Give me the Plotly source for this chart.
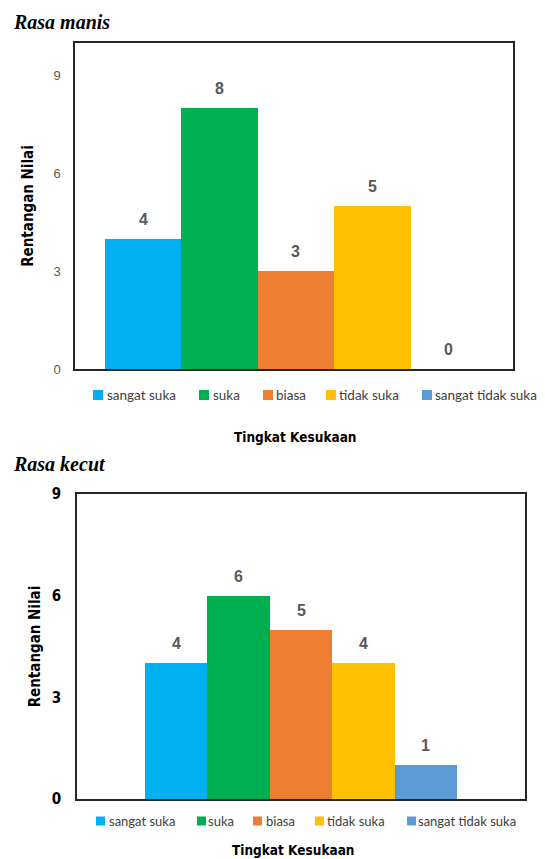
import plotly.graph_objects as go

categories = ["sangat suka", "suka", "biasa", "tidak suka", "sangat tidak suka"]
manis_values = [4, 8, 3, 5, 0]
kecut_values = [4, 6, 5, 4, 1]
colors = ["#00B0F0", "#00B050", "#ED7D31", "#FFC000", "#5B9BD5"]
ytick_vals = [0, 3, 6, 9]

W, H = 545, 859
def py(p):
    return 1 - p / H
def px_(x):
    return x / W

NARROW = "DejaVu Sans Condensed, Liberation Sans Narrow, Liberation Sans, Arial"
LEG = "Lato, Carlito, Calibri, Liberation Sans"
fig = go.Figure()

label_font = dict(family="Liberation Sans", size=16, color="#595959", weight="bold")
for i, (cat, v) in enumerate(zip(categories, manis_values)):
    fig.add_trace(go.Bar(x=[i], y=[v], width=1, name=cat, marker_color=colors[i],
                         marker_line_width=0, xaxis="x", yaxis="y", showlegend=False))
    fig.add_annotation(x=i, y=v, xref="x", yref="y", text=str(v), showarrow=False,
                       yanchor="bottom", yshift=9, font=label_font)
for i, (cat, v) in enumerate(zip(categories, kecut_values)):
    fig.add_trace(go.Bar(x=[i], y=[v], width=1, name=cat, marker_color=colors[i],
                         marker_line_width=0, xaxis="x2", yaxis="y2", showlegend=False))
    fig.add_annotation(x=i, y=v, xref="x2", yref="y2", text=str(v), showarrow=False,
                       yanchor="bottom", yshift=9, font=label_font)

# chart titles
title_font = dict(family="Liberation Serif", size=20, color="black", weight="bold", style="italic")
fig.add_annotation(text="Rasa manis", xref="paper", yref="paper", x=px_(11), y=py(22),
                   xanchor="left", yanchor="middle", showarrow=False, font=title_font)
fig.add_annotation(text="Rasa kecut", xref="paper", yref="paper", x=px_(11), y=py(464),
                   xanchor="left", yanchor="middle", showarrow=False, font=title_font)

# x axis titles
xt_font = dict(family=NARROW, size=13.5, color="black", weight="bold")
fig.add_annotation(text="Tingkat Kesukaan", xref="paper", yref="paper", x=px_(295), y=py(437),
                   xanchor="center", yanchor="middle", showarrow=False, font=xt_font)
fig.add_annotation(text="Tingkat Kesukaan", xref="paper", yref="paper", x=px_(293), y=py(850),
                   xanchor="center", yanchor="middle", showarrow=False, font=xt_font)

# legends (square + text) for both charts
legend_layout = [
    # (y center, square size, font size, [(square_left, text_left), ...])
    (395, 10, 13.5, [(93, 105), (199, 211), (263, 274), (326, 337), (422, 433)]),
    (821, 9, 13, [(96, 107), (197, 206), (253, 264), (315, 325), (407, 416)]),
]
for yc, sq, fs, items in legend_layout:
    for (sx, tx), cat, col in zip(items, categories, colors):
        fig.add_shape(type="rect", xref="paper", yref="paper",
                      x0=px_(sx), x1=px_(sx + sq), y0=py(yc + sq / 2), y1=py(yc - sq / 2),
                      fillcolor=col, line_width=0)
        fig.add_annotation(text=cat, xref="paper", yref="paper", x=px_(tx), y=py(yc),
                           xanchor="left", yanchor="middle", showarrow=False,
                           font=dict(family=LEG, size=fs, color="#404040"))

axis_line = dict(showline=True, linecolor="#262626", linewidth=1.5, mirror=True,
                 showgrid=False, zeroline=False, automargin=False)
yt_font = dict(family=NARROW, size=15, color="black", weight="bold")

fig.update_layout(
    width=W, height=H, margin=dict(l=0, r=0, t=0, b=0, autoexpand=False),
    paper_bgcolor="white", plot_bgcolor="white",
    barmode="overlay", bargap=0, showlegend=False,
    xaxis=dict(domain=[px_(75), px_(513)], range=[-0.89, 4.84], showticklabels=False,
               ticks="", anchor="y", **axis_line),
    yaxis=dict(domain=[py(369), py(43)], range=[0, 10], tickvals=ytick_vals, anchor="x",
               ticks="", ticklabelstandoff=10,
               tickfont=dict(family="Liberation Sans", size=13, color="#595959"),
               title=dict(text="Rentangan Nilai", standoff=16, font=yt_font),
               **axis_line),
    xaxis2=dict(domain=[px_(77), px_(525)], range=[-1.59, 5.59], showticklabels=False,
                ticks="", anchor="y2", **axis_line),
    yaxis2=dict(domain=[py(799), py(494)], range=[0, 9], tickvals=ytick_vals, anchor="x2",
                ticks="", ticklabelstandoff=11,
                tickfont=dict(family=NARROW, size=15, color="black", weight="bold"),
                title=dict(text="Rentangan Nilai", standoff=8, font=yt_font),
                **axis_line),
)

fig.write_html("out.html", config={"displayModeBar": False},
               post_script="document.body.style.margin='0';document.body.style.overflow='hidden';")
